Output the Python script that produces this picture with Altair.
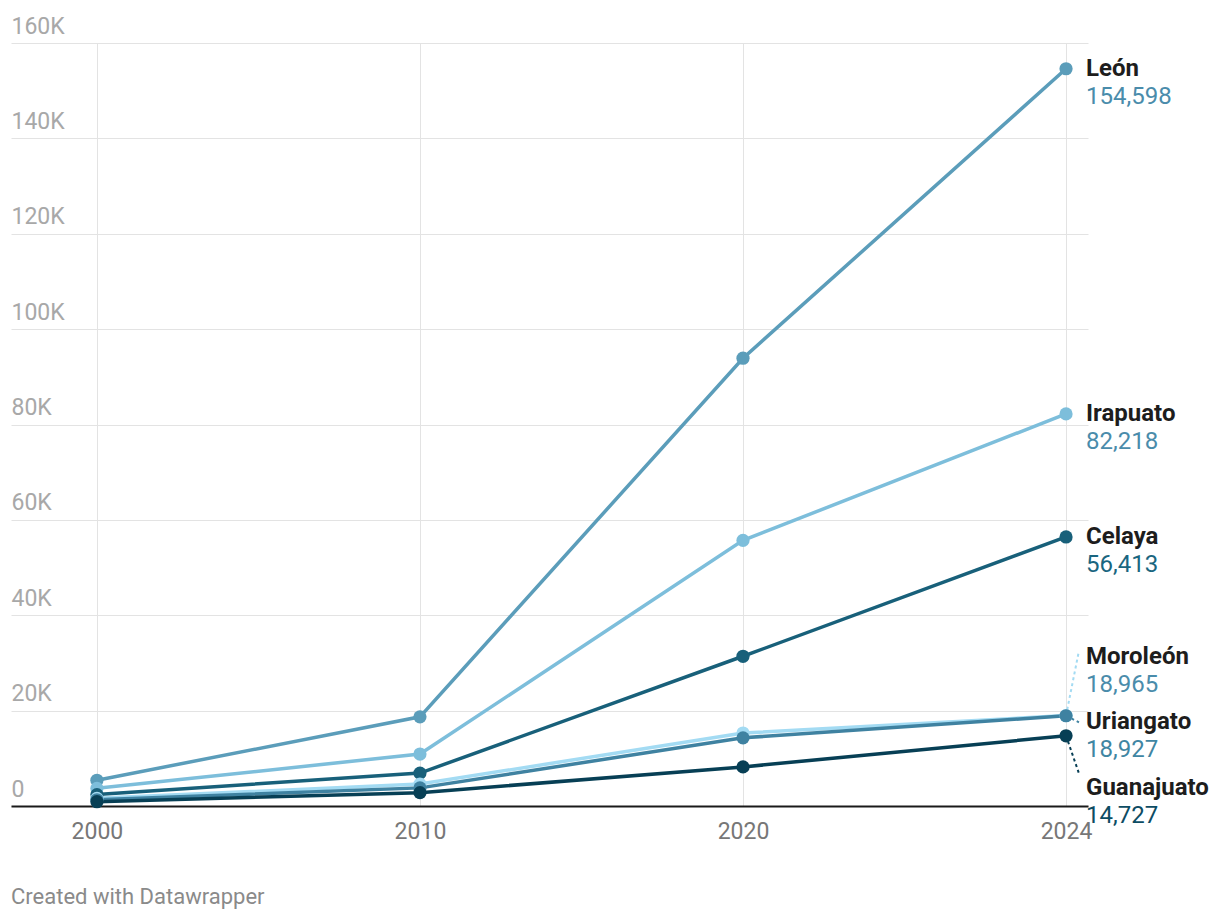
import altair as alt
import pandas as pd

years = ["2000", "2010", "2020", "2024"]
series = ["León", "Irapuato", "Celaya", "Moroleón", "Uriangato", "Guanajuato"]
values = {
    "León":       [5400, 18700, 93900, 154598],
    "Irapuato":   [3700, 10900, 55700, 82218],
    "Celaya":     [2400, 6900, 31400, 56413],
    "Moroleón":   [1600, 4600, 15300, 18965],
    "Uriangato":  [1300, 3800, 14300, 18927],
    "Guanajuato": [900, 2800, 8200, 14727],
}
line_colors = ["#5b9dba", "#7dbedb", "#18607a", "#a3dbf3", "#3f82a1", "#073f55"]
value_colors = ["#4a8cab", "#4a8cab", "#1a6680", "#4a8cab", "#3f86a3", "#0d4c63"]
y_ticks = [0, 20000, 40000, 60000, 80000, 100000, 120000, 140000, 160000]

FONT = "Roboto"

rows = []
for s in series:
    for i, v in enumerate(values[s]):
        rows.append({"series": s, "idx": i, "year": years[i], "value": v})
df = pd.DataFrame(rows)

# label dodge (centered clusters)
gap = 13700
last = sorted([(values[s][-1], s) for s in series], reverse=True)
clusters = [[item] for item in last]
changed = True
while changed:
    changed = False
    pos = []
    for c in clusters:
        m = sum(v for v, _ in c) / len(c)
        n = len(c)
        pos.append([m + ((n - 1) / 2 - k) * gap for k in range(n)])
    for i in range(len(clusters) - 1):
        if pos[i][-1] - pos[i + 1][0] < gap:
            clusters[i] = clusters[i] + clusters[i + 1]
            del clusters[i + 1]
            changed = True
            break
label_y = {}
for c in clusters:
    m = sum(v for v, _ in c) / len(c)
    n = len(c)
    for k, (v, s) in enumerate(c):
        label_y[s] = m + ((n - 1) / 2 - k) * gap

last_idx = len(years) - 1
lab_rows = []
lead_rows = []
for s, vc in zip(series, value_colors):
    v = values[s][-1]
    ly = label_y[s]
    lab_rows.append({"series": s, "idx": last_idx, "ly": ly,
                     "vtext": f"{v:,}", "vcolor": vc})
    shift = ly - v
    if abs(shift) > 500:
        if shift > 3000:
            end = ly + 1300
        elif shift < -3000:
            end = ly + 3000
        else:
            end = ly
        lead_rows.append({"series": s, "idx": last_idx, "value": v,
                          "idx2": last_idx + 0.04, "end": end})
lab = pd.DataFrame(lab_rows)
lead = pd.DataFrame(lead_rows)

color = alt.Color("series:N", scale=alt.Scale(domain=series, range=line_colors), legend=None)
label_expr = "[" + ",".join(f"'{y}'" for y in years) + "][datum.value]"

x = alt.X("idx:Q",
          scale=alt.Scale(domain=[-0.266, 3.068], nice=False, zero=False),
          axis=alt.Axis(values=list(range(len(years))), labelExpr=label_expr, title=None,
                        ticks=False, domain=True, domainColor="#1a1a1a", domainWidth=2,
                        grid=True, gridColor="#e3e3e3", gridWidth=1,
                        labelFont=FONT, labelFontSize=23, labelColor="#777777",
                        labelPadding=14))
y = alt.Y("value:Q",
          scale=alt.Scale(domain=[0, 160000], nice=False),
          axis=alt.Axis(values=y_ticks, title=None,
                        labelExpr="datum.value == 0 ? '0' : (datum.value/1000) + 'K'",
                        labelAlign="left", labelBaseline="alphabetic", labelOffset=-10,
                        labelPadding=0, tickSize=0, ticks=False, domain=False,
                        grid=True, gridColor="#e3e3e3", gridWidth=1,
                        labelFont=FONT, labelFontSize=23, labelColor="#a8a8a8"))

base = alt.Chart(df)
lines = base.mark_line(strokeWidth=3.5).encode(x=x, y=y, color=color, order="idx:Q",
                                               detail="series:N")
leaders = alt.Chart(lead).mark_rule(strokeWidth=2, strokeDash=[3, 3]).encode(
    x="idx:Q", x2="idx2:Q", y="value:Q", y2="end:Q", color=color)
points = base.mark_circle(size=175, opacity=1).encode(x="idx:Q", y="value:Q", color=color)
names = alt.Chart(lab).mark_text(align="left", baseline="middle", dx=20, font=FONT,
                                 fontSize=24, fontWeight="bold", color="#1d1d1d").encode(
    x="idx:Q", y="ly:Q", text="series:N")
vals = alt.Chart(lab).mark_text(align="left", baseline="middle", dx=20, dy=28, font=FONT,
                                fontSize=24).encode(
    x="idx:Q", y="ly:Q", text="vtext:N", color=alt.Color("vcolor:N", scale=None))

chart = alt.layer(lines, leaders, points, names, vals).properties(
    width=1077, height=763,
    autosize=alt.AutoSizeParams(type="none"),
    padding={"left": 3, "top": 35, "right": 124, "bottom": 108},
    background="white",
    title=alt.TitleParams("Created with Datawrapper", orient="bottom", anchor="start",
                          font=FONT, fontSize=22, fontWeight="normal", color="#8a8a8a",
                          offset=44),
).configure_view(stroke=None)

chart.save("out.html", embed_options={"renderer": "svg", "actions": False})
